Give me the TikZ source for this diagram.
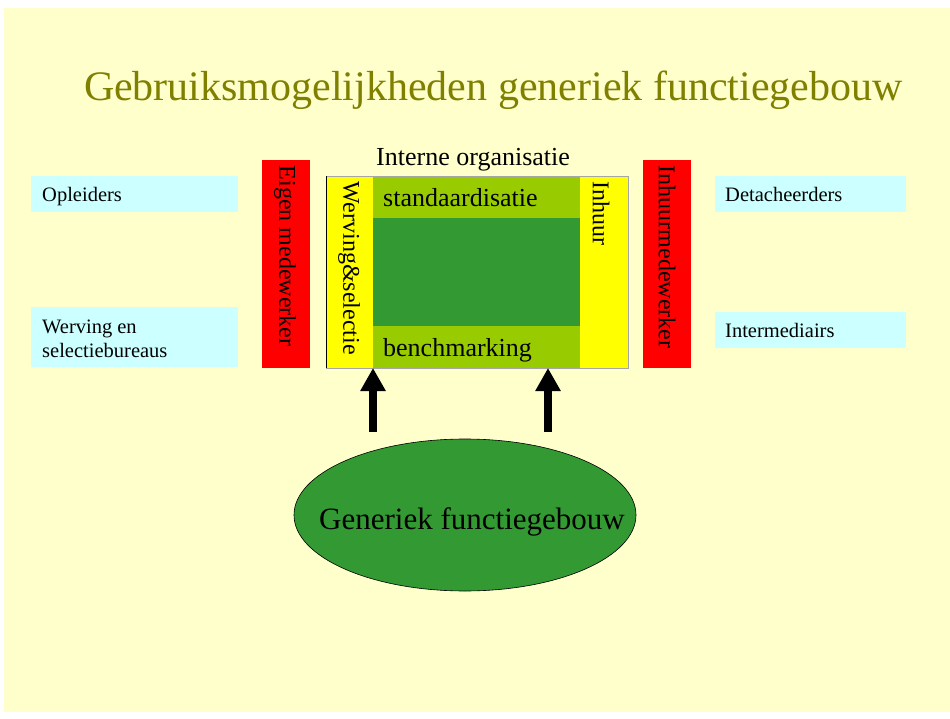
\documentclass[tikz,border=0pt]{standalone}
\usepackage{fontspec}
\setmainfont{Liberation Serif}
\usetikzlibrary{arrows.meta,shapes.geometric}
\definecolor{bgyellow}{HTML}{FFFFCC}
\definecolor{titleolive}{HTML}{808000}
\definecolor{barred}{HTML}{FF0000}
\definecolor{stripyellow}{HTML}{FFFF00}
\definecolor{lightgreen}{HTML}{99CC00}
\definecolor{darkgreen}{HTML}{339933}
\definecolor{lightcyan}{HTML}{CCFFFF}
\tikzset{
  band/.style={inner sep=0pt, outer sep=0pt},
  plain/.style={inner sep=0pt, outer sep=0pt, text=black},
  vert/.style={inner sep=0pt, outer sep=0pt, rotate=-90, anchor=west, font=\fontsize{24}{28}\selectfont},
  small/.style={inner sep=0pt, anchor=base west, font=\fontsize{20.5}{24}\selectfont, align=left},
  mid/.style={inner sep=0pt, anchor=base west, font=\fontsize{26}{30}\selectfont},
  bigarrow/.style={line width=8pt, -{Triangle[width=24pt,length=23pt]}}
}
\begin{document}
\begin{tikzpicture}[x=1pt,y=-1pt]
\useasboundingbox (0,0) rectangle (950,719);
\fill[bgyellow] (4,8) rectangle (950,712);
% title
\node[plain, anchor=base west, text=titleolive, font=\fontsize{42}{48}\selectfont] (title) at (84,101) {Gebruiksmogelijkheden generiek functiegebouw};
% cyan boxes
\fill[lightcyan] (31,176) rectangle (238,212);
\node[small] (opl) at (42,202) {Opleiders};
\fill[lightcyan] (31,307) rectangle (238,367);
\node[small] (wes) at (42,333) {Werving en};
\node[small] (wes2) at (42,357) {selectiebureaus};
\fill[lightcyan] (715,176) rectangle (906,212);
\node[small] (det) at (725,202) {Detacheerders};
\fill[lightcyan] (715,312) rectangle (906,348);
\node[small] (int) at (725,337) {Intermediairs};
% red bars
\fill[barred] (262,160) rectangle (310,368);
\node[vert] (eigen) at (285,166) {Eigen medewerker};
\fill[barred] (643,160) rectangle (691,368);
\node[vert] (inhmw) at (667,166) {Inhuurmedewerker};
% main box
\node[mid] (io) at (376,166) {Interne organisatie};
\fill[stripyellow] (326,176) rectangle (373,368);
\fill[stripyellow] (580,176) rectangle (628,368);
\fill[lightgreen] (373,176) rectangle (580,218);
\fill[darkgreen] (373,218) rectangle (580,326);
\fill[lightgreen] (373,326) rectangle (580,368);
\node[band, draw=gray!70, line width=0.8pt, minimum width=302pt, minimum height=192pt] (box) at (477,272) {};
\draw[black, line width=0.8pt] (326,176) -- (326,368);
\node[mid] (std) at (383,207) {standaardisatie};
\node[mid] (bench) at (383,356) {benchmarking};
\node[vert] (wer) at (349,182) {Werving\&selectie};
\node[vert] (inh) at (601,182) {Inhuur};
% ellipse
\node[ellipse, draw=black, line width=0.6pt, fill=darkgreen, minimum width=342pt, minimum height=152pt, inner sep=0pt] (gen) at (465,515) {};
\node[plain, font=\fontsize{31}{36}\selectfont] (gentext) at (472,522) {Generiek functiegebouw};
% arrows
\coordinate (a1) at (373,432);
\coordinate (a2) at (548,432);
\draw[bigarrow] (a1) -- (a1 |- box.south);
\draw[bigarrow] (a2) -- (a2 |- box.south);
\end{tikzpicture}
\end{document}
